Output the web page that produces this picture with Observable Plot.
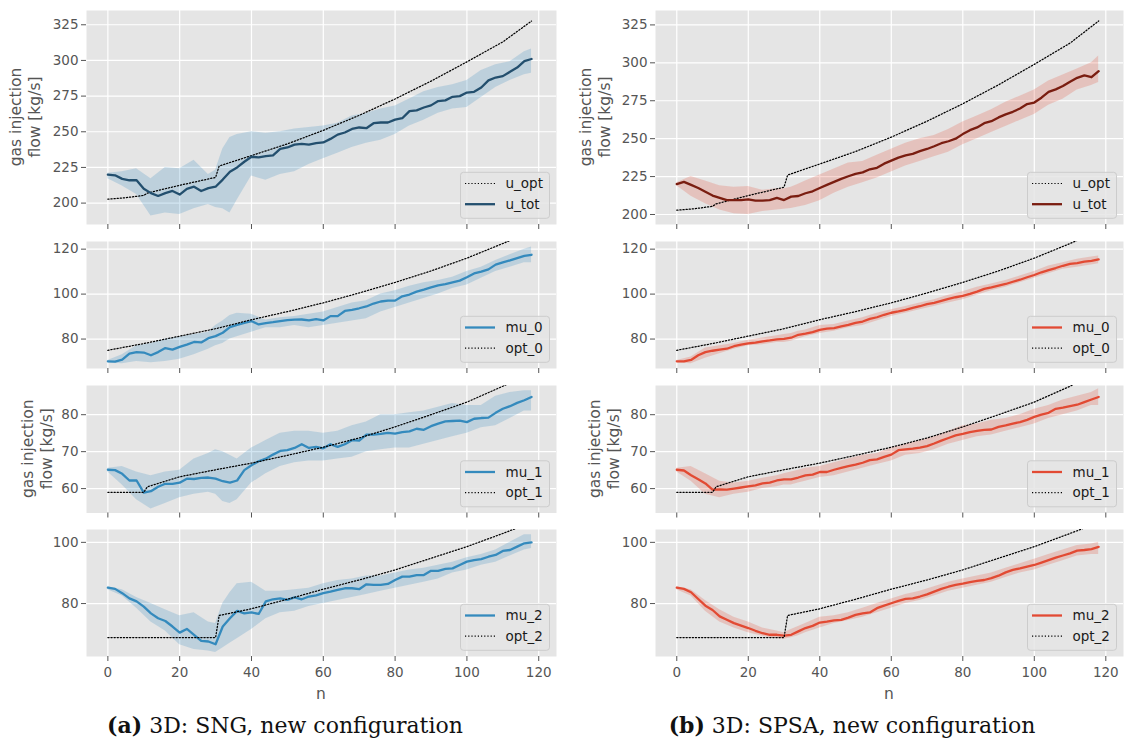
<!DOCTYPE html>
<html><head><meta charset="utf-8">
<script src="https://cdn.jsdelivr.net/npm/d3@7"></script>
<script src="https://cdn.jsdelivr.net/npm/@observablehq/plot@0.6"></script>
<style>
html,body{margin:0;padding:0;background:#fff;}
body{width:1126px;height:747px;overflow:hidden;position:relative;font-family:"DejaVu Sans",sans-serif;}
.panel{position:absolute;}
.caption{position:absolute;top:713px;font-family:"DejaVu Serif",serif;font-size:22px;line-height:24px;white-space:nowrap;transform:translateX(-50%);color:#111;}
.caption b{font-weight:bold;}
</style></head><body>
<script>
// ---------- x positions ----------
const steps = [0,2,4,6,8,10,12,14,16,18,20,22,24,26,28,30,32,34,36,38,40,42,44,46,48,50,52,54,56,58,60,62,64,66,68,70,72,74,76,78,80,82,84,86,88,90,92,94,96,98,100,102,104,106,108,110,112,114,116,118];
const bandSteps = [0,4,8,12,16,20,24,28,30,32,34,36,40,44,48,52,56,60,64,68,72,76,80,84,88,92,96,100,104,108,112,116,118];
const xTicks = [0,20,40,60,80,100,120];

// ---------- optimal trajectories ----------
const uOptN = [0,5,10,11,20,30,31,40,50,60,70,80,90,100,110,118];
const uOpt  = [202.8,203.8,205.4,207,212.5,218,226,233.3,241.5,251,261.5,273,285.5,299,313,327.6];
const opt0N = [0,10,20,30,40,50,60,70,80,90,100,110,118];
const opt0  = [75,78,81.3,84.6,88.6,92.2,96.1,100.5,105.2,110.3,116,122.5,128];
const opt1N = [0,10,11,20,30,40,50,60,70,80,90,100,110,118];
const opt1  = [59,59,60.5,63.2,65.1,66.9,69,71.2,73.7,76.7,80,83.4,87.7,91.5];
const opt2N = [0,30,31,40,50,60,70,80,90,100,110,118];
const opt2  = [68.9,68.9,76.1,78.3,81.4,84.7,87.7,91,94.8,98.6,102.9,106.5];

// ---------- (a) SNG ----------
const sngTot = [220,219.5,217,216,216,210,207,205,207,208.5,206,210,211.5,208.5,210.5,211.5,216.5,222,225,229,232.5,232,233,233.5,238,239,241,241.5,241,242,242.5,245,248,249.5,252,253,252.5,256,256.5,256.5,258.5,259.5,264.5,265,267,268.5,271.5,272,274.5,275,277.5,278,281,286,288,289,292,295,299.5,301];
const sngTotLo = [217,212,206,191,193,192,196,199,197,196,193,202,219,216,220,222,227,231,235,239,242,244,248,254,258,263,266,267,274,281,286,290,291];
const sngTotHi = [221,222,224,217,225,224,230,220,223,238,246,248,250,249,250,252,253,254,256,261,263,266,268,273,278,281,283,286,293,297,299,306,308];
const sngMu0 = [70.1,70,70.8,73.5,74.2,74,72.8,74.2,76,75.3,76.5,77.5,78.7,78.5,80.4,81.3,82.8,85.3,86.3,87.2,88,86.5,87.1,87.5,88,88.4,88.6,88.7,88.3,88.9,88.3,90.2,90.2,92.5,93,93.7,94.5,95.8,96.7,97.1,97.1,99,99.8,101.1,102,103,103.9,104.4,105.2,106,107.5,109.2,110,111,113.1,114.1,115,116,117,117.5];
const sngMu0Lo = [69.5,69,70,69.5,70,71,73,75.5,77,78,80,81,83,85,85,86,85,86,87,88,89,92,94,96,98,100,102.5,104,107,110,112,114,114];
const sngMu0Hi = [70.5,73,77,78,80,81,82,83,86,88,90.5,91.5,91,88.5,89.5,90,91,92,94,96,97,100,101.5,103.5,105,106,107.5,110,112,115,117.5,120,121];
const sngMu1 = [65.1,65,64,62.2,62.2,58.9,59.3,60.5,61.3,61.3,61.6,62.7,62.6,62.9,63,62.7,62,61.6,62.2,65,66.3,67.4,68.1,69.2,70.2,70.4,71,72,71,71.3,70.9,72,71.3,72,73.1,73,74.6,74.6,74.8,75.1,74.9,75.3,75.5,76.2,75.9,76.9,77.6,78.2,78.3,78.4,78,78.9,79.1,79.2,80.5,81.6,82.3,83.2,83.9,84.8];
const sngMu1Lo = [64.5,61,57,54.5,56,57.5,58.5,59,58.5,56.5,56,57,61.5,64,66,67,67.5,67.5,68,68.5,70,70.5,71,71,72,73,74,75,76.5,77,79,81,81];
const sngMu1Hi = [65.5,66,64.5,63.5,64.5,65,68,69.5,70.5,70,69,68,71,73,75,75.5,75.5,75,75.5,77,78,80,80,80.5,81,82,83,82.5,82.5,85,86,86.5,86.5];
const sngMu2 = [85.2,84.8,83.4,81.7,80.7,79,76.8,75.2,74.3,72.5,70.5,71.7,69.8,67.8,67.6,66.7,72.5,75.2,77.6,76.8,77.1,76.6,80.7,81.4,81.7,81.2,82,81.4,82.3,82.7,83.4,83.9,84.5,85,85,84.7,86.3,86.1,86.1,86.4,87.7,88.8,88.8,89.3,89.3,90.7,90.7,91.3,91.5,92.6,93.7,94.2,94.5,95.3,95.9,97.2,97.5,98.6,99.7,100];
const sngMu2Lo = [84.5,82.5,78.5,74,71,66.5,65,64.5,64,65.5,67,68.5,71.5,75,77,77.5,79,80,81,82,83,84,85,86,87,88,90,91,92.5,93.5,95.5,97.5,98];
const sngMu2Hi = [85.5,84.5,82,80,78,76,77,74,73.5,80,83.5,86.5,87,84,84,84.5,85,86.5,87.5,88,89,89,90,91,91.5,92.5,93.5,95,96,97.5,100,102.5,102.5];

// ---------- (b) SPSA ----------
const spsaTot = [220,221.5,219.5,217.5,215,212.5,211,209.5,209.5,209.5,210,209.2,209.2,209.5,211,209.5,211.8,212.2,214,215.3,217.5,219.5,221.5,223.5,225.2,226.8,227.8,229.8,230.8,233.5,235.5,237.5,239,240,241.8,243.2,245,247,248.3,250,253,255.6,257.4,260.2,261.5,264,266,267.7,269.9,272.8,273.8,277,280.8,282.5,284.7,287.5,290.1,291.7,290.5,294.5];
const spsaTotLo = [219,212,207,203,200.5,200,202,203,203.5,204,205,206,209,214,218,221,224,228,232,235,238,241,246,250,254,258,262,266,272,276,282,285,287];
const spsaTotHi = [221,225,222,219,218,218.5,216,217,217,218,220,222,226,230,234,235,239,243,247,250,252,256,261,265,269,274,278,282,288,292,296,300,304.5];
const spsaMu0 = [70.1,70.1,70.7,72.8,74.2,74.8,75.3,75.7,76.8,77.5,78.1,78.4,79,79.4,79.9,80.1,80.6,81.9,82.4,83.1,84.1,84.6,84.9,85.6,86.3,87.2,87.8,89,89.7,90.8,91.7,92.3,93,93.9,94.6,95.5,96.1,97,97.9,98.6,99.2,100.1,101.1,102.3,103,103.8,104.5,105.5,106.4,107.5,108.5,109.7,110.7,111.6,112.6,113.4,113.8,114.4,114.8,115.4];
const spsaMu0Lo = [69.5,69,71.5,73.5,75.5,77,77.5,78.5,78.5,79,80,81,82.5,83.5,85,86,88,90,91.5,93,94.5,96,97.5,99.5,101.5,103,105,107,109,111,112,113,113.5];
const spsaMu0Hi = [70.5,72,76,77,78,79.5,80.5,81.5,82,82.5,83.5,84,86,86.5,88,89.5,91.5,93,94.5,96,97.5,99.5,101,103,104.5,106,108,110,112.5,114,115.5,116.5,117];
const spsaMu1 = [65.1,64.9,63.6,62.5,61.4,59.7,59.8,59.7,60,60.3,60.6,60.9,61.4,61.6,62.2,62.5,62.5,63,63.6,63.8,64.5,64.5,65.1,65.6,66.1,66.5,67,67.7,67.9,68.6,69.2,70.4,70.6,70.8,71.1,71.5,72.2,73,73.7,74.4,74.8,75.3,75.6,75.9,76,76.7,77.1,77.6,78,78.6,79.4,80,80.5,81.6,81.9,82.3,82.7,83.4,84.1,84.8];
const spsaMu1Lo = [64.5,62,58.5,57.5,58.5,59,60,60.5,61,61,61.5,62,63,63.5,64.5,65.5,66.5,67.5,69,69.5,70.5,72,73,74,74.5,75.5,76.5,77.5,79,80,81,82.5,82.5];
const spsaMu1Hi = [65.5,66,64,62,61.5,62,62.8,63.5,64,64.5,65,65.5,66,67,68,69,69.5,71,72,73,74,75.5,77,77.5,78.5,79,80,81.5,82.5,84,85,86,87];
const spsaMu2 = [85.2,84.8,83.7,81.5,79.3,77.9,75.8,74.7,73.6,72.8,72,71.1,70.3,69.8,69.8,69.5,69.8,70.9,72,72.7,73.8,74.1,74.5,74.7,75.4,76.3,76.8,77.1,78.5,79.3,80.1,80.9,81.5,81.7,82.3,83,83.9,84.8,85.5,86.1,86.5,87,87.4,87.7,88.3,89.1,90.2,91,91.5,92.1,92.6,93.4,94.2,95,95.7,96.4,97.3,97.5,97.8,98.5];
const spsaMu2Lo = [84.5,82.5,77.5,74,72,70.5,69.3,68.5,68.3,68.8,69.5,70.5,72,73.5,74.5,75.5,77,78.5,80,81,82.5,84,85,86,87,88.5,90,91,92.5,94,95.5,96,96];
const spsaMu2Hi = [85.5,84.5,81,78,75.5,74,72,71,70.5,71.5,72.5,73.5,75.5,76,77,78.5,80,81.5,83,84,85.5,87,88,89,90,91.5,93,94.5,96,97.5,99,99.5,100];

// ---------- axis ticks ----------
const yTicksRow = [[200,225,250,275,300,325],[80,100,120],[60,70,80],[80,100]];
const yDomainsLeft  = [[185,335],[66.9,123.4],[53.4,87.9],[62.7,104.2]];
const yDomainsRight = [[193.4,334.5],[66.9,123.4],[53.4,87.9],[62.7,104.2]];

const colSNG = {mu:"#348ABD", tot:"#234F6E", band:"#348ABD"};
const colSPSA = {mu:"#E24A33", tot:"#7A1D10", band:"#E24A33"};

// ---------- layout (styling only) ----------
const COLS = [{left:0, ml:86, pw:470, mr:8, lab:[[17,36],null,[29,48],null]},
              {left:570, ml:85, pw:468, mr:3, lab:[[17,36],null,[26,45],null]}];
const ROWS = [{top:10,bottom:224},{top:241,bottom:368},{top:385,bottom:512.5},{top:529,bottom:656}];
const MT = 10;

const zipXY = (xs, ys) => xs.map((x,i)=>({n:x, v:ys[i]}));
const zipBand = (xs, lo, hi) => xs.map((x,i)=>({n:x, lo:lo[i], hi:hi[i]}));

function addLegend(svg, items, right, bottom){
  const w = 89, h = 46;
  const x0 = right - 6.5 - w, y0 = bottom - 5.7 - h;
  const g = d3.select(svg).append("g");
  g.append("rect").attr("x",x0).attr("y",y0).attr("width",w).attr("height",h).attr("rx",3)
   .attr("fill","#E5E5E5").attr("fill-opacity",0.85).attr("stroke","#CCCCCC").attr("stroke-width",1);
  items.forEach((it,i)=>{
    const cy = y0 + 11.2 + i*20.7;
    g.append("line").attr("x1",x0+4.5).attr("x2",x0+34.5).attr("y1",cy).attr("y2",cy)
      .attr("stroke",it.color).attr("stroke-width",it.dash?1.2:2.3)
      .attr("stroke-dasharray",it.dash?"1.2,2":null);
    g.append("text").attr("x",x0+45).attr("y",cy).attr("dy","0.35em").attr("text-anchor","start")
      .attr("font-size",13.5).attr("fill","#1a1a1a").attr("font-family","DejaVu Sans").text(it.label);
  });
}

function makePanel(c, r, cfg){
  const col = COLS[c], row = ROWS[r];
  const ph = row.bottom - row.top;
  const mb = r === 3 ? 52 : 8;
  const width = col.ml + col.pw + col.mr;
  const height = MT + ph + mb;
  const ticks = yTicksRow[r];
  const bottomAxis = r === 3;
  const marks = [
    Plot.frame({fill:"#E5E5E5", stroke:"none"}),
    Plot.gridX(xTicks, {stroke:"#fff", strokeOpacity:1, strokeWidth:1.2}),
    Plot.gridY(ticks, {stroke:"#fff", strokeOpacity:1, strokeWidth:1.2}),
    Plot.areaY(zipBand(bandSteps, cfg.lo, cfg.hi), {x:"n", y1:"lo", y2:"hi", fill:cfg.band, fillOpacity:0.22, clip:true}),
  ];
  const meanMark = Plot.line(zipXY(steps, cfg.mean), {x:"n", y:"v", stroke:cfg.color, strokeWidth:2.3, clip:true});
  const optMark = Plot.line(zipXY(cfg.optN, cfg.opt), {x:"n", y:"v", stroke:"#000", strokeWidth:1.25, strokeDasharray:"1.2,1.9", clip:true});
  if (r === 0) marks.push(optMark, meanMark); else marks.push(meanMark, optMark);
  marks.push(
    Plot.axisY(ticks, {tickSize:5, tickPadding:3, fontSize:13.5, label:null}),
    Plot.axisX(xTicks, {tickSize:5, tickPadding:6, fontSize:13.5, label:null, tickFormat: bottomAxis ? (d=>String(d)) : (()=> "")})
  );
  const svg = Plot.plot({
    width, height,
    marginLeft: col.ml, marginRight: col.mr, marginTop: MT, marginBottom: mb,
    x: {domain:[-5.95,124.95], label:null},
    y: {domain: cfg.domain, label:null},
    style: {fontFamily:"DejaVu Sans", fontSize:"13.5px", color:"#555", background:"transparent", overflow:"visible"},
    marks
  });
  const wrap = document.createElement("div");
  wrap.className = "panel";
  wrap.style.left = col.left + "px";
  wrap.style.top = (row.top - MT) + "px";
  wrap.appendChild(svg);
  document.body.appendChild(wrap);

  const s = d3.select(svg);
  const lab = col.lab[r];
  if (lab){
    const cy = MT + ph/2;
    [["gas injection", lab[0]], ["flow [kg/s]", lab[1]]].forEach(([t,x])=>{
      s.append("text").attr("transform",`translate(${x+4},${cy}) rotate(-90)`)
        .attr("text-anchor","middle").attr("font-size",15.5).attr("fill","#555")
        .attr("font-family","DejaVu Sans").text(t);
    });
  }
  if (bottomAxis){
    s.append("text").attr("x", col.ml + col.pw/2).attr("y", MT + ph + 43)
      .attr("text-anchor","middle").attr("font-size",15.5).attr("fill","#555")
      .attr("font-family","DejaVu Sans").text("n");
  }
  addLegend(svg, cfg.legend, col.ml + col.pw, MT + ph);
}

const panels = [
  {c:0,r:0,mean:sngTot,lo:sngTotLo,hi:sngTotHi,optN:uOptN,opt:uOpt,color:colSNG.tot,band:colSNG.band,domain:yDomainsLeft[0],
   legend:[{label:"u_opt",color:"#000",dash:true},{label:"u_tot",color:colSNG.tot}]},
  {c:0,r:1,mean:sngMu0,lo:sngMu0Lo,hi:sngMu0Hi,optN:opt0N,opt:opt0,color:colSNG.mu,band:colSNG.band,domain:yDomainsLeft[1],
   legend:[{label:"mu_0",color:colSNG.mu},{label:"opt_0",color:"#000",dash:true}]},
  {c:0,r:2,mean:sngMu1,lo:sngMu1Lo,hi:sngMu1Hi,optN:opt1N,opt:opt1,color:colSNG.mu,band:colSNG.band,domain:yDomainsLeft[2],
   legend:[{label:"mu_1",color:colSNG.mu},{label:"opt_1",color:"#000",dash:true}]},
  {c:0,r:3,mean:sngMu2,lo:sngMu2Lo,hi:sngMu2Hi,optN:opt2N,opt:opt2,color:colSNG.mu,band:colSNG.band,domain:yDomainsLeft[3],
   legend:[{label:"mu_2",color:colSNG.mu},{label:"opt_2",color:"#000",dash:true}]},
  {c:1,r:0,mean:spsaTot,lo:spsaTotLo,hi:spsaTotHi,optN:uOptN,opt:uOpt,color:colSPSA.tot,band:colSPSA.band,domain:yDomainsRight[0],
   legend:[{label:"u_opt",color:"#000",dash:true},{label:"u_tot",color:colSPSA.tot}]},
  {c:1,r:1,mean:spsaMu0,lo:spsaMu0Lo,hi:spsaMu0Hi,optN:opt0N,opt:opt0,color:colSPSA.mu,band:colSPSA.band,domain:yDomainsRight[1],
   legend:[{label:"mu_0",color:colSPSA.mu},{label:"opt_0",color:"#000",dash:true}]},
  {c:1,r:2,mean:spsaMu1,lo:spsaMu1Lo,hi:spsaMu1Hi,optN:opt1N,opt:opt1,color:colSPSA.mu,band:colSPSA.band,domain:yDomainsRight[2],
   legend:[{label:"mu_1",color:colSPSA.mu},{label:"opt_1",color:"#000",dash:true}]},
  {c:1,r:3,mean:spsaMu2,lo:spsaMu2Lo,hi:spsaMu2Hi,optN:opt2N,opt:opt2,color:colSPSA.mu,band:colSPSA.band,domain:yDomainsRight[3],
   legend:[{label:"mu_2",color:colSPSA.mu},{label:"opt_2",color:"#000",dash:true}]},
];
panels.forEach(p => makePanel(p.c, p.r, p));

const captions = [{x:285, bold:"(a)", text:" 3D: SNG, new configuration"},
                  {x:852, bold:"(b)", text:" 3D: SPSA, new configuration"}];
captions.forEach(cp=>{
  const d = document.createElement("div");
  d.className = "caption";
  d.style.left = cp.x + "px";
  d.innerHTML = `<b>${cp.bold}</b>${cp.text}`;
  document.body.appendChild(d);
});
</script>
</body></html>
